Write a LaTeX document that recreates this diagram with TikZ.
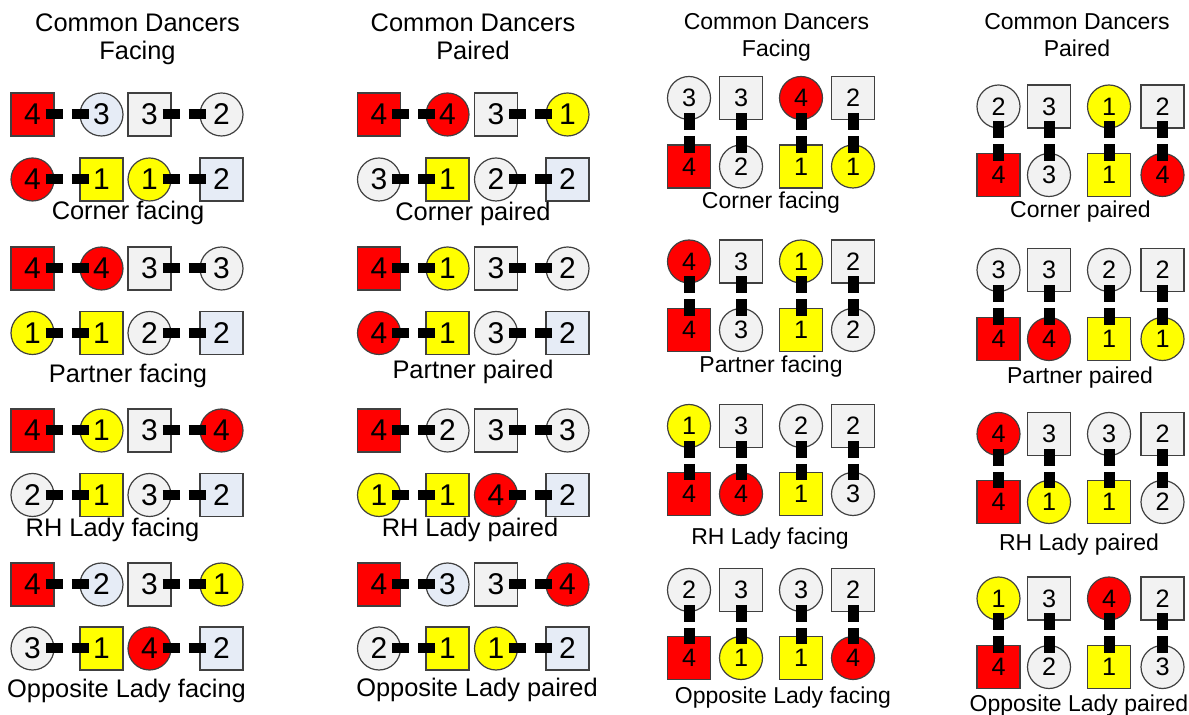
\documentclass[tikz,border=0pt]{standalone}
\usepackage{fontspec}
\setmainfont{Liberation Sans}
\definecolor{cRed}{HTML}{FF0000}
\definecolor{cYel}{HTML}{FFFF00}
\definecolor{cGray}{HTML}{F2F2F2}
\definecolor{cBlue}{HTML}{E6ECF6}
\definecolor{cEdge}{HTML}{404040}
\tikzset{
  dancer/.style={draw=cEdge, line width=0.6pt, minimum size=21.5pt, inner sep=0pt, font=\fontsize{15}{15}\selectfont},
  sq/.style={dancer, rectangle},
  ci/.style={dancer, circle},
  vsm/.style={font=\fontsize{12.6}{12.6}\selectfont},
  hlink/.style={line width=5pt, dash pattern=on 8.5pt off 4.5pt, shorten <=6.5pt, shorten >=6.5pt},
  vlink/.style={line width=5.5pt, dash pattern=on 8.5pt off 3pt, shorten <=7.5pt, shorten >=6.75pt},
  hdr/.style={anchor=north, inner sep=0pt, align=center, font=\fontsize{12.7}{14.4}\selectfont},
  lbl/.style={inner sep=0pt, font=\fontsize{12.7}{14.4}\selectfont},
  vtxt/.style={font=\fontsize{11.5}{13.4}\selectfont},
}

\begin{document}
\begin{tikzpicture}[x=0.5pt,y=-0.5pt]
\useasboundingbox (0,0) rectangle (1189,715);
% headings
\node[hdr] (ha) at (137.5,13) {Common Dancers\\Facing};
\node[hdr] (hb) at (473,13) {Common Dancers\\Paired};
\node[hdr,vtxt] (hc) at (776.5,13) {Common Dancers\\Facing};
\node[hdr,vtxt] (hd) at (1077,13) {Common Dancers\\Paired};
% (a) facing, couples side by side
\foreach \g/\yt/\yb/\lx/\ly/\lab/\rowt/\rowb in {
  1/114.5/179.5/128/213/Corner facing/{sq/cRed/4,ci/cBlue/3,sq/cGray/3,ci/cGray/2}/{ci/cRed/4,sq/cYel/1,ci/cYel/1,sq/cBlue/2},
  2/268.5/333/128/376/Partner facing/{sq/cRed/4,ci/cRed/4,sq/cGray/3,ci/cGray/3}/{ci/cYel/1,sq/cYel/1,ci/cGray/2,sq/cBlue/2},
  3/430.5/495/112.5/530/RH Lady facing/{sq/cRed/4,ci/cYel/1,sq/cGray/3,ci/cRed/4}/{ci/cGray/2,sq/cYel/1,ci/cGray/3,sq/cBlue/2},
  4/584.5/648.5/126.5/691/Opposite Lady facing/{sq/cRed/4,ci/cBlue/2,sq/cGray/3,ci/cYel/1}/{ci/cGray/3,sq/cYel/1,ci/cRed/4,sq/cBlue/2}}{
  \foreach \s/\col/\nr [count=\i] in \rowt {
    \pgfmathsetmacro\x{{32.5,101.5,149.5,221.5}[\i-1]}
    \node[\s,fill=\col] (a\g t\i) at (\x,\yt) {\nr};}
  \foreach \s/\col/\nr [count=\i] in \rowb {
    \pgfmathsetmacro\x{{32.5,101.5,149.5,221.5}[\i-1]}
    \node[\s,fill=\col] (a\g b\i) at (\x,\yb) {\nr};}
  \foreach \p/\q in {1/2,3/4} {
    \draw[hlink] (a\g t\p.center) -- (a\g t\q.center);
    \draw[hlink] (a\g b\p.center) -- (a\g b\q.center);}
  \node[lbl] (a\g l) at (\lx,\ly) {\lab};
}
% (b) paired, couples side by side
\foreach \g/\yt/\yb/\lx/\ly/\lab/\rowt/\rowb in {
  1/114.5/179.5/473/214/Corner paired/{sq/cRed/4,ci/cRed/4,sq/cGray/3,ci/cYel/1}/{ci/cGray/3,sq/cYel/1,ci/cGray/2,sq/cBlue/2},
  2/268.5/333/473/372/Partner paired/{sq/cRed/4,ci/cYel/1,sq/cGray/3,ci/cGray/2}/{ci/cRed/4,sq/cYel/1,ci/cGray/3,sq/cBlue/2},
  3/430.5/495/470/530/RH Lady paired/{sq/cRed/4,ci/cGray/2,sq/cGray/3,ci/cGray/3}/{ci/cYel/1,sq/cYel/1,ci/cRed/4,sq/cBlue/2},
  4/584.5/648.5/477/690/Opposite Lady paired/{sq/cRed/4,ci/cBlue/3,sq/cGray/3,ci/cRed/4}/{ci/cGray/2,sq/cYel/1,ci/cYel/1,sq/cBlue/2}}{
  \foreach \s/\col/\nr [count=\i] in \rowt {
    \pgfmathsetmacro\x{{379,447.5,496,567.5}[\i-1]}
    \node[\s,fill=\col] (b\g t\i) at (\x,\yt) {\nr};}
  \foreach \s/\col/\nr [count=\i] in \rowb {
    \pgfmathsetmacro\x{{379,447.5,496,567.5}[\i-1]}
    \node[\s,fill=\col] (b\g b\i) at (\x,\yb) {\nr};}
  \foreach \p/\q in {1/2,3/4} {
    \draw[hlink] (b\g t\p.center) -- (b\g t\q.center);
    \draw[hlink] (b\g b\p.center) -- (b\g b\q.center);}
  \node[lbl] (b\g l) at (\lx,\ly) {\lab};
}
% (c) facing, couples one above the other
\foreach \g/\yt/\yb/\lx/\ly/\lab/\rowt/\rowb in {
  1/98/166.5/771/203/Corner facing/{ci/cGray/3,sq/cGray/3,ci/cRed/4,sq/cGray/2}/{sq/cRed/4,ci/cGray/2,sq/cYel/1,ci/cYel/1},
  2/261.5/330/771/367/Partner facing/{ci/cRed/4,sq/cGray/3,ci/cYel/1,sq/cGray/2}/{sq/cRed/4,ci/cGray/3,sq/cYel/1,ci/cGray/2},
  3/426/494/770/539/RH Lady facing/{ci/cYel/1,sq/cGray/3,ci/cGray/2,sq/cGray/2}/{sq/cRed/4,ci/cRed/4,sq/cYel/1,ci/cGray/3},
  4/590/658/783/698/Opposite Lady facing/{ci/cGray/2,sq/cGray/3,ci/cGray/3,sq/cGray/2}/{sq/cRed/4,ci/cYel/1,sq/cYel/1,ci/cRed/4}}{
  \foreach \s/\col/\nr [count=\i] in \rowt {
    \pgfmathsetmacro\x{{689,741,801,853}[\i-1]}
    \node[\s,vsm,fill=\col] (c\g t\i) at (\x,\yt) {\nr};}
  \foreach \s/\col/\nr [count=\i] in \rowb {
    \pgfmathsetmacro\x{{689,741,801,853}[\i-1]}
    \node[\s,vsm,fill=\col] (c\g b\i) at (\x,\yb) {\nr};}
  \foreach \i in {1,...,4}
    \draw[vlink] (c\g t\i.center) -- (c\g b\i.center);
  \node[lbl,vtxt] (c\g l) at (\lx,\ly) {\lab};
}
% (d) paired, couples one above the other
\foreach \g/\yt/\yb/\lx/\ly/\lab/\rowt/\rowb in {
  1/106.5/175/1080.5/212/Corner paired/{ci/cGray/2,sq/cGray/3,ci/cYel/1,sq/cGray/2}/{sq/cRed/4,ci/cGray/3,sq/cYel/1,ci/cRed/4},
  2/270/339/1080/378/Partner paired/{ci/cGray/3,sq/cGray/3,ci/cGray/2,sq/cGray/2}/{sq/cRed/4,ci/cRed/4,sq/cYel/1,ci/cYel/1},
  3/434/502/1079/545/RH Lady paired/{ci/cRed/4,sq/cGray/3,ci/cGray/3,sq/cGray/2}/{sq/cRed/4,ci/cYel/1,sq/cYel/1,ci/cGray/2},
  4/598.5/667/1079/706/Opposite Lady paired/{ci/cYel/1,sq/cGray/3,ci/cRed/4,sq/cGray/2}/{sq/cRed/4,ci/cGray/2,sq/cYel/1,ci/cGray/3}}{
  \foreach \s/\col/\nr [count=\i] in \rowt {
    \pgfmathsetmacro\x{{998.5,1049,1109,1162.5}[\i-1]}
    \node[\s,vsm,fill=\col] (d\g t\i) at (\x,\yt) {\nr};}
  \foreach \s/\col/\nr [count=\i] in \rowb {
    \pgfmathsetmacro\x{{998.5,1049,1109,1162.5}[\i-1]}
    \node[\s,vsm,fill=\col] (d\g b\i) at (\x,\yb) {\nr};}
  \foreach \i in {1,...,4}
    \draw[vlink] (d\g t\i.center) -- (d\g b\i.center);
  \node[lbl,vtxt] (d\g l) at (\lx,\ly) {\lab};
}
\end{tikzpicture}
\end{document}
